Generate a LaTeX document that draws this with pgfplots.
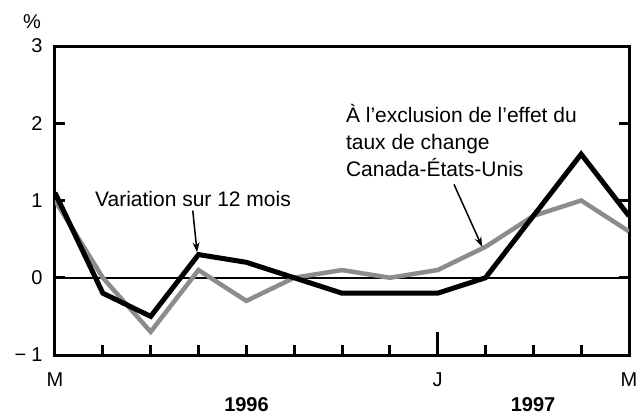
\documentclass[border=0pt]{standalone}
\usepackage{pgfplots}
\pgfplotsset{compat=1.18}
\usepackage{fontspec}
\setmainfont{Liberation Sans}
\usetikzlibrary{arrows.meta}
\definecolor{lgray}{RGB}{140,140,140}
\begin{document}
\begin{tikzpicture}
\useasboundingbox (-55pt,-61pt) rectangle (582pt,355pt);
\begin{axis}[
  at={(0,0)}, anchor=south west,
  scale only axis, width=574pt, height=309pt,
  xmin=0, xmax=12, ymin=-1, ymax=3,
  axis line style={line width=3pt},
  every tick/.style={line width=3pt, black},
  tick align=inside,
  major tick length=10pt,
  xtick={0,1,2,3,4,5,6,7,9,10,11,12},
  xticklabels={M,,,,,,,,,,,M},
  extra x ticks={8},
  extra x tick labels={J},
  extra x tick style={major tick length=23pt},
  xtick pos=bottom,
  ytick={-1,0,1,2,3},
  yticklabels={−\hspace{5pt}1,0,1,2,3},
  ytick pos=both,
  tick label style={font=\fontsize{20}{22}\selectfont},
  xticklabel style={yshift=-14pt},
  yticklabel style={xshift=-9pt},
]
\addplot[line width=2.5pt, black] coordinates {(0,0) (12,0)};
\addplot[line width=4.5pt, lgray] coordinates {
(0,1.0) (1,0.0) (2,-0.7) (3,0.1) (4,-0.3) (5,0.0) (6,0.1) (7,0.0) (8,0.1) (9,0.4) (10,0.8) (11,1.0) (12,0.6)};
\addplot[line width=5pt, black] coordinates {
(0,1.1) (1,-0.2) (2,-0.5) (3,0.3) (4,0.2) (5,0.0) (6,-0.2) (7,-0.2) (8,-0.2) (9,0.0) (10,0.8) (11,1.6) (12,0.8)};
\node[font=\fontsize{21}{24}\selectfont, anchor=center] at (axis cs:2.885,1.02) {Variation sur 12 mois};
\draw[line width=1.5pt, -{Stealth[length=10pt,width=7pt]}] (axis cs:2.88,0.87) -- (axis cs:2.97,0.33);
\node[font=\fontsize{21}{27}\selectfont, anchor=west, align=left, inner sep=0pt] at (axis cs:6.08,1.78) {À l’exclusion de l’effet du\\taux de change\\Canada-États-Unis};
\draw[line width=1.5pt, -{Stealth[length=10pt,width=7pt]}] (axis cs:8.34,1.21) -- (axis cs:8.93,0.40);
\end{axis}
\node[font=\fontsize{20}{22}\selectfont] at (-23pt,333pt) {\%};
\node[font=\bfseries\fontsize{20}{22}\selectfont] at (191.5pt,-50pt) {1996};
\node[font=\bfseries\fontsize{20}{22}\selectfont] at (478pt,-50pt) {1997};
\end{tikzpicture}
\end{document}
